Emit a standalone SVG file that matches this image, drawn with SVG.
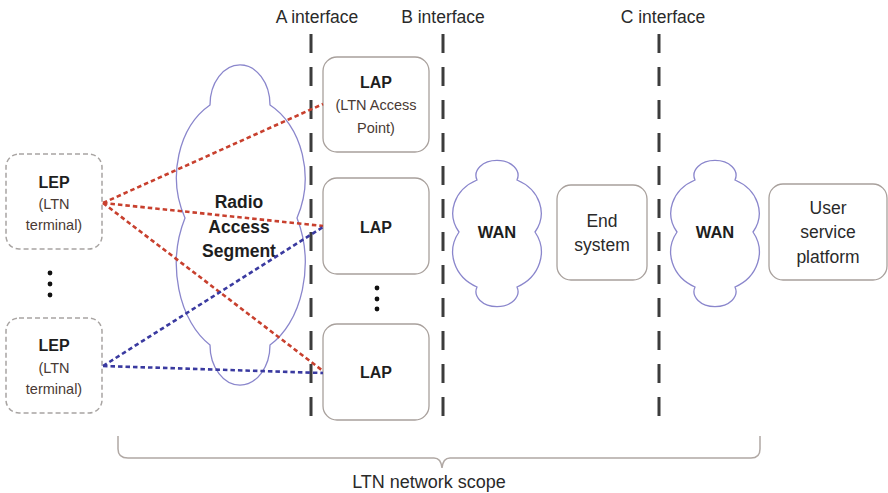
<svg xmlns="http://www.w3.org/2000/svg" width="888" height="493" viewBox="0 0 888 493">
  <style>
    text { font-family: "Liberation Sans", Arial, sans-serif; fill: #1e1e1e; text-anchor: middle; dominant-baseline: central; }
    .b { font-weight: bold; font-size: 16px; }
    .sub { font-size: 14.5px; fill: #4a3a34; }
    .lbl { font-size: 17.5px; fill: #2a2a2a; }
    .reg { font-size: 17.5px; fill: #2a2a2a; }
    .box { fill: #ffffff; stroke: #a8a09c; stroke-width: 1.3; }
    .lep { fill: #ffffff; stroke: #a8a4a2; stroke-width: 1.5; stroke-dasharray: 5 3; }
    .cloud { fill: #ffffff; stroke: #8a86cc; stroke-width: 1.3; }
    .iface { stroke: #3c3c3c; stroke-width: 3; stroke-dasharray: 19 14; fill: none; }
    .red { stroke: #c8402e; stroke-width: 2.6; stroke-dasharray: 4.5 3; fill: none; }
    .blue { stroke: #3a3aa0; stroke-width: 2.6; stroke-dasharray: 4.5 3; fill: none; }
    .brace { stroke: #b0a8a4; stroke-width: 1.5; fill: none; }
  </style>

  <!-- interface boundaries -->
  <g id="interfaces">
    <text class="lbl" x="317" y="17">A interface</text>
    <text class="lbl" x="443" y="17">B interface</text>
    <text class="lbl" x="663" y="17">C interface</text>
    <line class="iface" x1="311" y1="34" x2="311" y2="418"/>
    <line class="iface" x1="443" y1="34" x2="443" y2="418"/>
    <line class="iface" x1="659" y1="34" x2="659" y2="418"/>
  </g>

  <!-- radio access segment cloud -->
  <g id="radio-segment">
    <path class="cloud" d="M 210,105 A 30 40 0 1 1 270,105 A 64 82 0 0 1 297,218 A 64 92 0 0 1 270,345 A 30 40 0 1 1 210,345 A 64 92 0 0 1 185,218 A 64 82 0 0 1 210,105 Z"/>
    <text class="b" x="239" y="202" style="font-size:17.5px">Radio</text>
    <text class="b" x="239" y="227" style="font-size:17.5px">Access</text>
    <text class="b" x="239" y="251" style="font-size:17.5px">Segment</text>
  </g>

  <!-- terminals -->
  <g id="lep-1">
    <rect class="lep" x="6" y="154" width="96" height="95" rx="13"/>
    <text class="b" x="54" y="182">LEP</text>
    <text class="sub" x="54" y="204">(LTN</text>
    <text class="sub" x="54" y="225">terminal)</text>
  </g>
  <g id="lep-dots">
    <circle cx="50" cy="273" r="2.4" fill="#111"/>
    <circle cx="50" cy="284" r="2.4" fill="#111"/>
    <circle cx="50" cy="295" r="2.4" fill="#111"/>
  </g>
  <g id="lep-2">
    <rect class="lep" x="6" y="318" width="96" height="95" rx="13"/>
    <text class="b" x="54" y="345">LEP</text>
    <text class="sub" x="54" y="368">(LTN</text>
    <text class="sub" x="54" y="389">terminal)</text>
  </g>

  <!-- access points -->
  <g id="lap-1">
    <rect class="box" x="323" y="57" width="106" height="95" rx="14"/>
    <text class="b" x="376" y="82">LAP</text>
    <text class="sub" x="376" y="105">(LTN Access</text>
    <text class="sub" x="376" y="128">Point)</text>
  </g>
  <g id="lap-2">
    <rect class="box" x="323" y="178" width="106" height="96" rx="14"/>
    <text class="b" x="376" y="227">LAP</text>
  </g>
  <g id="lap-dots">
    <circle cx="377" cy="288" r="2.4" fill="#111"/>
    <circle cx="377" cy="299" r="2.4" fill="#111"/>
    <circle cx="377" cy="309" r="2.4" fill="#111"/>
  </g>
  <g id="lap-3">
    <rect class="box" x="323" y="324" width="106" height="96" rx="14"/>
    <text class="b" x="376" y="372">LAP</text>
  </g>

  <!-- backhaul -->
  <g id="wan-1">
    <path class="cloud" d="M 477,180 A 21 15 0 1 1 517,180 A 44 37 0 0 1 535,232 A 44 39 0 0 1 517,287 A 21 15 0 1 1 477,287 A 44 39 0 0 1 459,232 A 44 37 0 0 1 477,180 Z"/>
    <text class="b" x="497" y="232" style="font-size:16.5px">WAN</text>
  </g>
  <g id="end-system">
    <rect class="box" x="557" y="185" width="90" height="95" rx="14"/>
    <text class="reg" x="602" y="221">End</text>
    <text class="reg" x="602" y="245">system</text>
  </g>
  <g id="wan-2">
    <path class="cloud" d="M 695,180 A 21 15 0 1 1 735,180 A 44 37 0 0 1 753,232 A 44 39 0 0 1 735,287 A 21 15 0 1 1 695,287 A 44 39 0 0 1 677,232 A 44 37 0 0 1 695,180 Z"/>
    <text class="b" x="715" y="232" style="font-size:16.5px">WAN</text>
  </g>
  <g id="user-platform">
    <rect class="box" x="769" y="184" width="118" height="96" rx="14"/>
    <text class="reg" x="828" y="208">User</text>
    <text class="reg" x="828" y="232">service</text>
    <text class="reg" x="828" y="257">platform</text>
  </g>

  <!-- radio links -->
  <g id="connectors">
    <line class="red" x1="103" y1="203" x2="323" y2="104"/>
    <line class="red" x1="103" y1="203" x2="323" y2="226"/>
    <line class="red" x1="103" y1="203" x2="323" y2="371"/>
    <line class="blue" x1="103" y1="366" x2="323" y2="227"/>
    <line class="blue" x1="103" y1="366" x2="323" y2="373"/>
  </g>

  <!-- scope brace -->
  <g id="scope">
    <path class="brace" d="M 118,436 L 118,449 Q 118,458 128,458 L 434,458 Q 441,458 442,468 Q 443,458 450,458 L 751,458 Q 760,458 760,449 L 760,436"/>
    <text class="lbl" x="429" y="482" style="font-size:18px">LTN network scope</text>
  </g>
</svg>
